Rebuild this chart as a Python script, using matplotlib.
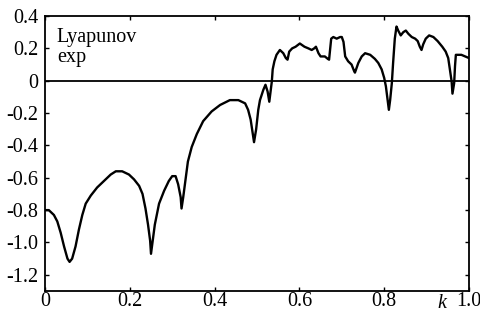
import matplotlib
matplotlib.use("Agg")
import matplotlib.pyplot as plt

k = [0.000, 0.009, 0.021, 0.029, 0.037, 0.045, 0.053, 0.058, 0.064, 0.072,
     0.080, 0.088, 0.096, 0.108, 0.123, 0.139, 0.155, 0.167, 0.182, 0.198,
     0.210, 0.222, 0.230, 0.237, 0.243, 0.248, 0.250, 0.253, 0.259, 0.269,
     0.281, 0.292, 0.300, 0.308, 0.314, 0.320, 0.322, 0.326, 0.332, 0.337,
     0.346, 0.358, 0.373, 0.393, 0.413, 0.436, 0.456, 0.472, 0.479, 0.485,
     0.490, 0.493, 0.498, 0.503, 0.507, 0.515, 0.520, 0.525, 0.529, 0.532,
     0.535, 0.537, 0.541, 0.546, 0.554, 0.562, 0.568, 0.572, 0.576, 0.583,
     0.591, 0.601, 0.612, 0.621, 0.629, 0.635, 0.639, 0.645, 0.650, 0.660,
     0.667, 0.670, 0.675, 0.680, 0.688, 0.696, 0.700, 0.704, 0.708, 0.715,
     0.723, 0.729, 0.731, 0.739, 0.747, 0.755, 0.767, 0.778, 0.786, 0.794,
     0.800, 0.804, 0.808, 0.811, 0.814, 0.818, 0.821, 0.825, 0.829, 0.833,
     0.839, 0.845, 0.851, 0.857, 0.865, 0.873, 0.879, 0.884, 0.888, 0.892,
     0.898, 0.906, 0.916, 0.926, 0.937, 0.945, 0.951, 0.955, 0.959, 0.961,
     0.965, 0.967, 0.969, 0.974, 0.982, 0.991, 1.000]
lyap = [-0.80, -0.80, -0.83, -0.87, -0.94, -1.025, -1.10, -1.12, -1.10, -1.025,
        -0.92, -0.83, -0.76, -0.71, -0.66, -0.62, -0.58, -0.56, -0.56, -0.58,
        -0.61, -0.65, -0.70, -0.79, -0.89, -0.99, -1.07, -1.01, -0.89, -0.76,
        -0.68, -0.62, -0.59, -0.59, -0.64, -0.72, -0.79, -0.72, -0.60, -0.50,
        -0.41, -0.33, -0.25, -0.19, -0.15, -0.12, -0.12, -0.14, -0.18, -0.24,
        -0.33, -0.38, -0.30, -0.18, -0.12, -0.056, -0.025, -0.067, -0.13, -0.067,
        -0.004, 0.07, 0.12, 0.16, 0.19, 0.17, 0.14, 0.13, 0.18, 0.20,
        0.21, 0.23, 0.21, 0.20, 0.19, 0.20, 0.21, 0.17, 0.15, 0.15,
        0.135, 0.13, 0.26, 0.27, 0.26, 0.27, 0.27, 0.24, 0.15, 0.12,
        0.10, 0.06, 0.05, 0.11, 0.15, 0.17, 0.16, 0.135, 0.11, 0.07,
        0.017, -0.035, -0.12, -0.18, -0.12, -0.015, 0.11, 0.26, 0.335, 0.31,
        0.28, 0.30, 0.31, 0.29, 0.27, 0.26, 0.245, 0.21, 0.19, 0.225,
        0.26, 0.28, 0.27, 0.245, 0.21, 0.18, 0.14, 0.07, -0.004, -0.08,
        -0.015, 0.09, 0.16, 0.16, 0.16, 0.15, 0.14]

xticks = [0, 0.2, 0.4, 0.6, 0.8, 1.0]
xticklabels = ["0", "0.2", "0.4", "0.6", "0.8", "1.0"]
yticks = [0.4, 0.2, 0, -0.2, -0.4, -0.6, -0.8, -1.0, -1.2]
yticklabels = ["0.4", "0.2", "0", "-0.2", "-0.4", "-0.6", "-0.8", "-1.0", "-1.2"]

plt.rcParams['font.family'] = ['Liberation Serif', 'DejaVu Serif']

fig = plt.figure(figsize=(4.81, 3.16), dpi=100)
ax = fig.add_axes([45/481, 1 - 291/316, 424/481, 275/316])
ax.plot(k, lyap, color='black', lw=1.7, solid_joinstyle='round')
ax.axhline(0, color='black', lw=1.3)
ax.set_xlim(0, 1.0)
ax.set_ylim(-1.3, 0.4)
ax.set_xticks(xticks)
ax.set_xticklabels(xticklabels)
ax.set_yticks(yticks)
ax.set_yticklabels(yticklabels)
ax.tick_params(direction='in', top=True, right=True, length=3, width=1,
               labelsize=14.5)
ax.tick_params(axis='x', pad=1)
ax.tick_params(axis='y', pad=5)
for s in ax.spines.values():
    s.set_linewidth(1.3)
ax.text(0.028, 0.955, "Lyapunov\nexp", transform=ax.transAxes, fontsize=14.5,
        va='top', ha='left', linespacing=1.05)
ax.text(0.935, -0.012, "k", transform=ax.transAxes, fontsize=14.5,
        style='italic', va='top', ha='center')
fig.savefig("out.png", dpi=100)
